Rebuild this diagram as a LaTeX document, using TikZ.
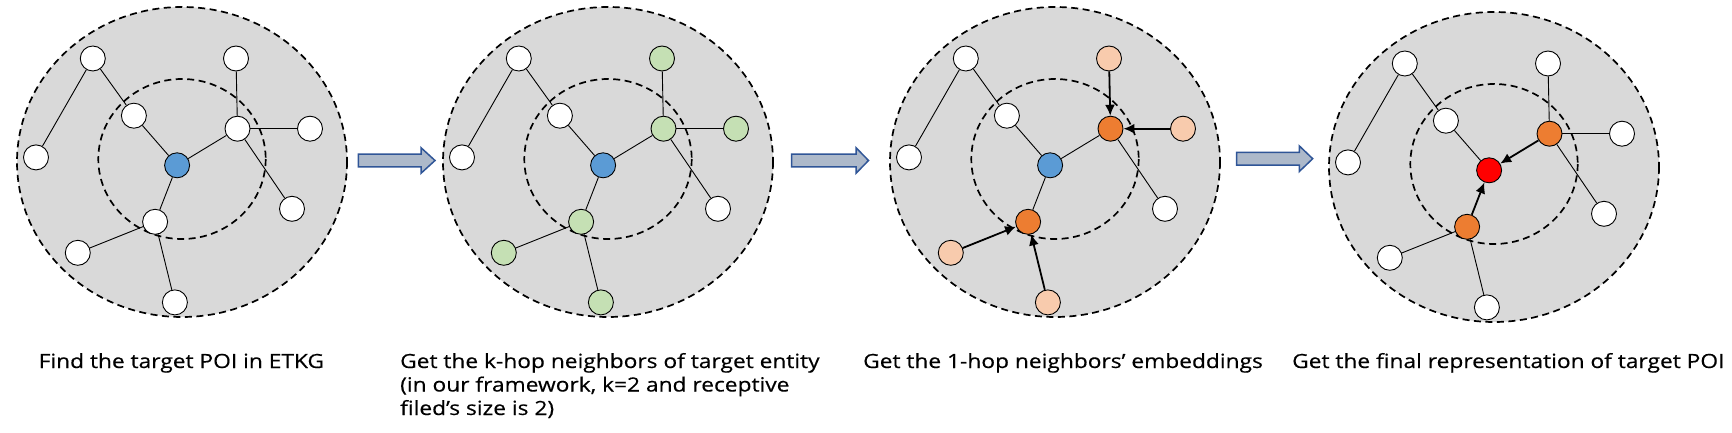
\documentclass[tikz,border=0pt]{standalone}
\usepackage{fontspec}
\setmainfont{Open Sans}[FakeStretch=1.16,FakeBold=0.4]
\usetikzlibrary{arrows.meta}
\definecolor{bggray}{HTML}{D9D9D9}
\definecolor{nblue}{HTML}{5B9BD5}
\definecolor{ngreen}{HTML}{C5E0B4}
\definecolor{npeach}{HTML}{F8CBAD}
\definecolor{norange}{HTML}{ED7D31}
\definecolor{nred}{HTML}{FF0000}
\definecolor{afill}{HTML}{ADB9CA}
\definecolor{aline}{HTML}{2F5597}
\tikzset{
  nd/.style={circle, draw=black, line width=0.9pt, minimum size=25pt, inner sep=0pt, fill=white},
  outerring/.style={draw=black, fill=bggray, line width=1.7pt, dash pattern=on 7pt off 4.5pt},
  innerring/.style={draw=black, line width=1.7pt, dash pattern=on 7pt off 4.5pt},
  ln/.style={draw=black, line width=0.9pt},
  ar/.style={draw=black, line width=1.8pt, -{Latex[length=11pt,width=10pt]}},
  barrow/.style={draw=aline, fill=afill, line width=1.5pt, line join=miter},
  lbl/.style={inner sep=0pt, font=\fontsize{19.6}{23.5}\selectfont},
  cA/.style={}, cB/.style={}, cC/.style={}, cD/.style={}, cE/.style={}, cF/.style={},
  cG/.style={}, cH/.style={}, cI/.style={}, cJ/.style={}, cX/.style={fill=nblue},
  eAB/.style={ln}, eAC/.style={ln}, eCX/.style={ln}, eEX/.style={ln}, eDE/.style={ln},
  eFE/.style={ln}, eGE/.style={ln}, eHX/.style={ln}, eIH/.style={ln}, eJH/.style={ln}
}
\newcommand\drawpanel[3]{%
\begin{scope}[shift={(#2)},#3]
  \draw[outerring] (182,162) ellipse [x radius=165, y radius=155];
  \draw[innerring] (182,159) ellipse [x radius=83.7, y radius=80];
  \node[nd,cA] (#1A) at (92.8,58.5) {};
  \node[nd,cB] (#1B) at (36,157.4) {};
  \node[nd,cC] (#1C) at (133.9,115.7) {};
  \node[nd,cX] (#1X) at (177.1,165.3) {};
  \node[nd,cD] (#1D) at (236,58.5) {};
  \node[nd,cE] (#1E) at (237.5,128.7) {};
  \node[nd,cF] (#1F) at (310,128.7) {};
  \node[nd,cG] (#1G) at (292,208.8) {};
  \node[nd,cH] (#1H) at (155.1,221.8) {};
  \node[nd,cI] (#1I) at (77.8,252.8) {};
  \node[nd,cJ] (#1J) at (174.9,302.4) {};
  \draw[eAB] (#1A) -- (#1B);
  \draw[eAC] (#1A) -- (#1C);
  \draw[eCX] (#1C) -- (#1X);
  \draw[eEX] (#1E) -- (#1X);
  \draw[eDE] (#1D) -- (#1E);
  \draw[eFE] (#1F) -- (#1E);
  \draw[eGE] (#1G) -- (#1E);
  \draw[eHX] (#1H) -- (#1X);
  \draw[eIH] (#1I) -- (#1H);
  \draw[eJH] (#1J) -- (#1H);
\end{scope}}
\newcommand\blockarrow[4]{%
  \draw[barrow] (#1,#4-6.3) -- (#2,#4-6.3) -- (#2,#4-12.8) -- (#3,#4) -- (#2,#4+12.8) -- (#2,#4+6.3) -- (#1,#4+6.3) -- cycle;}
\begin{document}
\begin{tikzpicture}[x=1pt,y=-1pt]
  \useasboundingbox (0,0) rectangle (1732,433);
  \drawpanel{p}{0,0}{}
  \drawpanel{q}{426,0}{cD/.style={fill=ngreen}, cE/.style={fill=ngreen}, cF/.style={fill=ngreen},
    cH/.style={fill=ngreen}, cI/.style={fill=ngreen}, cJ/.style={fill=ngreen}}
  \drawpanel{r}{873,0}{cE/.style={fill=norange}, cH/.style={fill=norange},
    cD/.style={fill=npeach}, cF/.style={fill=npeach}, cI/.style={fill=npeach}, cJ/.style={fill=npeach},
    eDE/.style={ar}, eFE/.style={ar}, eIH/.style={ar}, eJH/.style={ar}}
  \drawpanel{s}{1312,5}{cX/.style={fill=nred}, cE/.style={fill=norange}, cH/.style={fill=norange},
    eEX/.style={ar}, eHX/.style={ar}}
  \blockarrow{358.3}{421}{435}{160.5}
  \blockarrow{791.7}{856}{868.5}{160.5}
  \blockarrow{1236.7}{1299.3}{1312.7}{158.7}
  \node[lbl, anchor=base west] (t1) at (38.5,368) {Find the target POI in ETKG};
  \node[lbl, anchor=base west, align=left] (t2) at (400,415) {Get the k-hop neighbors of target entity\\(in our framework, k=2 and receptive\\filed’s size is 2)};
  \node[lbl, anchor=base west] (t3) at (863,368) {Get the 1-hop neighbors’ embeddings};
  \node[lbl, anchor=base west] (t4) at (1292,368) {Get the final representation of target POI};
\end{tikzpicture}
\end{document}
